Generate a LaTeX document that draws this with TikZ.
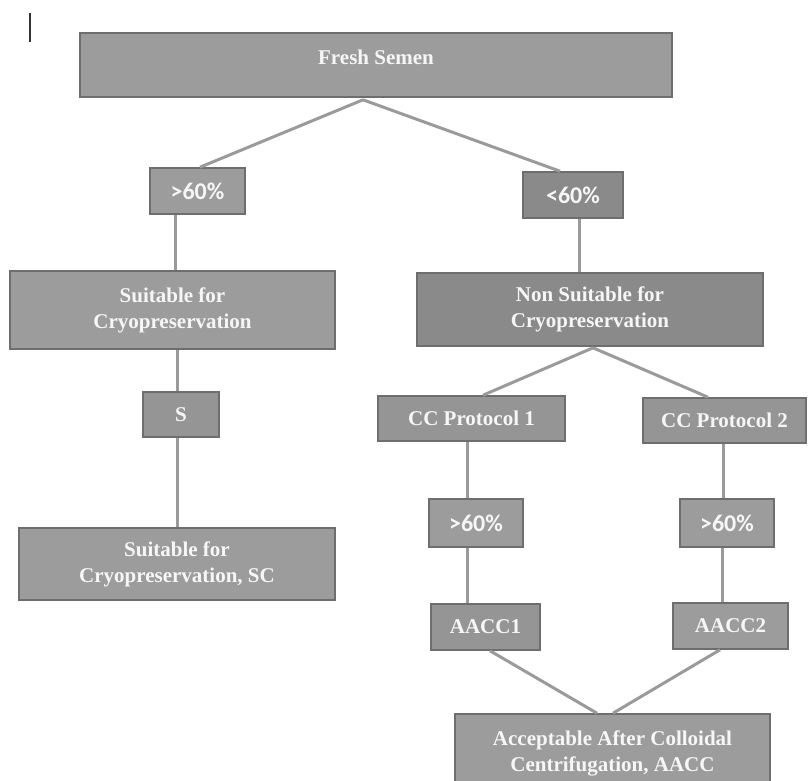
\documentclass[tikz,border=0pt]{standalone}
\usepackage{fontspec}
\setmainfont{Liberation Serif}
\newfontfamily\numfont{Carlito}
\definecolor{boxlight}{HTML}{9C9C9C}
\definecolor{boxmid}{HTML}{959595}
\definecolor{boxdark}{HTML}{8A8A8A}
\definecolor{boxedge}{HTML}{6E6E6E}
\definecolor{linkgray}{HTML}{9A9A9A}
\definecolor{txt}{HTML}{F6F6F6}
\tikzset{
  box/.style={draw=boxedge, line width=1.6pt, fill=boxlight, text=txt, inner sep=0pt,
    align=center, font=\bfseries\fontsize{21}{26}\selectfont},
  dbox/.style={box, fill=boxdark},
  mbox/.style={box, fill=boxmid},
  pct/.style={font=\numfont\bfseries\fontsize{24}{28}\selectfont},
  link/.style={draw=linkgray, line width=3pt},
}
\begin{document}
\begin{tikzpicture}[x=1pt,y=-1pt]
\useasboundingbox (0,0) rectangle (809,780);
\clip (0,0) rectangle (809,780);
% stray mark
\draw[line width=1.5pt, color=black!80] (30,13) -- (30,42);
% nodes
\node[box, minimum width=592pt, minimum height=64pt, text height=7pt, text depth=9pt] (fresh) at (376,65) {Fresh Semen};
\node[box, pct, minimum width=95pt, minimum height=46pt] (g1) at (197.5,191) {>60\%};
\node[dbox, pct, minimum width=100pt, minimum height=46pt] (l1) at (573,195) {<60\%};
\node[box, minimum width=325pt, minimum height=78pt] (suit) at (172.5,310) {Suitable for\\Cryopreservation};
\node[dbox, minimum width=346pt, minimum height=73pt] (non) at (590,309.5) {Non Suitable for\\Cryopreservation};
\node[mbox, minimum width=76pt, minimum height=45pt] (S) at (181,414.5) {S};
\node[mbox, minimum width=187pt, minimum height=45pt] (cc1) at (471.5,418.5) {CC Protocol 1};
\node[mbox, minimum width=163pt, minimum height=45pt] (cc2) at (724.5,420.5) {CC Protocol 2};
\node[box, minimum width=316pt, minimum height=72pt] (sc) at (177,564) {Suitable for\\Cryopreservation, SC};
\node[box, pct, minimum width=94pt, minimum height=48pt] (g2) at (476,523) {>60\%};
\node[box, pct, minimum width=94pt, minimum height=48pt] (g3) at (727,523) {>60\%};
\node[mbox, minimum width=109pt, minimum height=46pt] (a1) at (485.5,627) {AACC1};
\node[box, minimum width=115pt, minimum height=46pt] (a2) at (730.5,626) {AACC2};
\node[box, minimum width=315pt, minimum height=78pt] (aacc) at (612.5,753) {Acceptable After Colloidal\\Centrifugation, AACC};
% junction points
\coordinate (jf) at ([xshift=-13pt,yshift=-2pt]fresh.south);
\coordinate (jn) at ([xshift=3pt,yshift=-1pt]non.south);
% connectors
\draw[link] (jf) -- ([xshift=2.5pt]g1.north);
\draw[link] (jf) -- ([xshift=-13pt]l1.north);
\draw[link] ([xshift=-22.5pt]g1.south) -- ([xshift=2.5pt]suit.north);
\draw[link] ([xshift=4.5pt]suit.south) -- ([xshift=-4pt]S.north);
\draw[link] ([xshift=-4pt]S.south) -- (sc.north);
\draw[link] ([xshift=6pt]l1.south) -- ([xshift=-11pt]non.north);
\draw[link] (jn) -- ([xshift=11.5pt]cc1.north);
\draw[link] (jn) -- ([xshift=-16.5pt]cc2.north);
\draw[link] ([xshift=-4.5pt]cc1.south) -- ([xshift=-9pt]g2.north);
\draw[link] ([xshift=-1.5pt]cc2.south) -- ([xshift=-4pt]g3.north);
\draw[link] ([xshift=-9pt]g2.south) -- ([xshift=-18.5pt]a1.north);
\draw[link] ([xshift=-5pt]g3.south) -- ([xshift=-8.5pt]a2.north);
\draw[link] ([xshift=4.5pt]a1.south) -- ([xshift=-15.5pt]aacc.north);
\draw[link] ([xshift=-10.5pt]a2.south) -- ([xshift=0.5pt]aacc.north);
\end{tikzpicture}
\end{document}
